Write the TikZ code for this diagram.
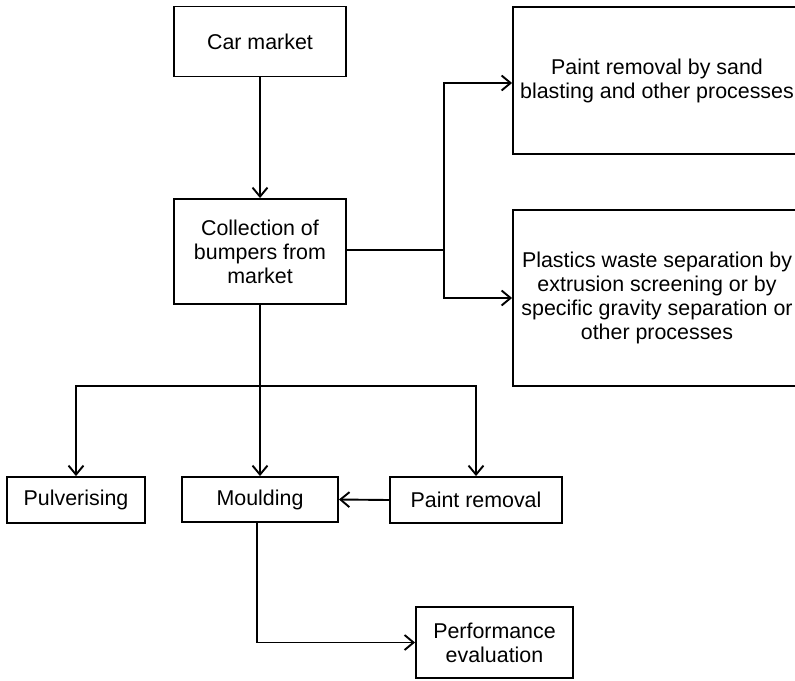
\documentclass[tikz,border=0pt]{standalone}
\usepackage{fontspec}
\setmainfont{Liberation Sans}
\usetikzlibrary{arrows.meta}
\begin{document}
\begin{tikzpicture}[x=1pt,y=-1pt,
  box/.style={draw,line width=1.9pt,align=center,inner sep=0pt,
    font=\fontsize{21.4}{24}\selectfont},
  arr/.style={line width=1.9pt,-{Straight Barb[length=9pt,width=15pt,line width=1.9pt]}},
  ln/.style={line width=1.9pt}]
\useasboundingbox (0,0) rectangle (795,680);
\clip (0,0) rectangle (795,680);

% process boxes
\node[box,minimum width=172pt,minimum height=70pt] (car) at (260,41.5) {Car market};
\node[box,minimum width=172pt,minimum height=105pt] (coll) at (260,251.5) {Collection of\\bumpers from\\market};
\node[box,minimum width=288pt,minimum height=147pt] (sand) at (657,80.5) {Paint removal by sand\\blasting and other processes};
\node[box,minimum width=288pt,minimum height=176pt] (plas) at (657,298) {Plastics waste separation by\\extrusion screening or by\\specific gravity separation or\\other processes};
\node[box,minimum width=138pt,minimum height=46pt] (pulv) at (76,500) {Pulverising};
\node[box,minimum width=156pt,minimum height=45pt] (moul) at (260,499.5) {Moulding};
\node[box,minimum width=172pt,minimum height=46pt] (paint) at (476,500) {Paint removal};
\node[box,minimum width=157pt,minimum height=71pt] (perf) at (494.5,642.5) {Performance\\evaluation};

% branch points
\coordinate (br) at (444,250);
\coordinate (bj) at (260,386);

% connectors
\draw[arr] (car.south) -- (coll.north);
\draw[ln] (coll.east |- br) -- (br);
\draw[arr] (br) |- ([yshift=-2.5pt]sand.west);
\draw[arr] (br) |- (plas.west);
\draw[arr] (coll.south -| moul.north) -- (moul.north);
\draw[arr] (bj) -| (pulv.north);
\draw[arr] (bj) -| (paint.north);
\draw[arr] (paint.west) -- (moul.east);
\draw[arr] ([xshift=-3pt]moul.south) |- (perf.west);
\end{tikzpicture}
\end{document}
